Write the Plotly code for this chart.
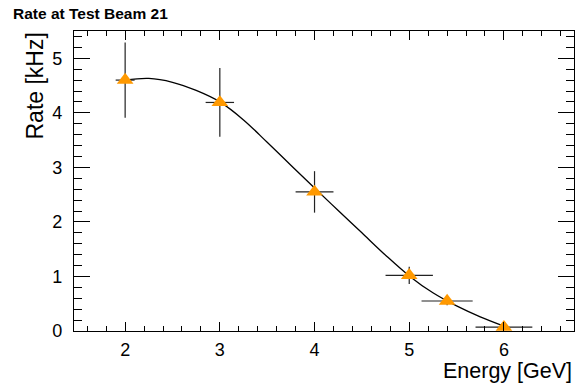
import plotly.graph_objects as go

# Measured rate versus beam energy
energy = [2.0, 3.0, 4.0, 5.0, 5.4, 6.0]
rate = [4.60, 4.19, 2.55, 1.02, 0.55, 0.07]
energy_err = [0.10, 0.15, 0.20, 0.25, 0.27, 0.30]
rate_err = [0.69, 0.63, 0.38, 0.16, 0.08, 0.01]

# Fitted curve, sampled
fit_energy = [2.0, 2.25, 2.5, 2.75, 3.0, 3.25, 3.5, 3.75, 4.0, 4.25, 4.5, 4.75,
              5.0, 5.25, 5.5, 5.75, 6.0]
fit_rate = [4.60, 4.63, 4.56, 4.41, 4.20, 3.87, 3.46, 3.04, 2.62, 2.21, 1.80,
            1.39, 1.01, 0.70, 0.46, 0.26, 0.09]

FONT = "Liberation Sans, Arial, Helvetica, sans-serif"

# Plot area in pixels
L, R, T, B = 74, 574, 31, 331
W, H = 578, 388


def px_x(p):
    return (p - L) / (R - L)


def px_y(p):
    return (B - p) / (B - T)


fig = go.Figure()

fig.add_trace(go.Scatter(
    x=fit_energy, y=fit_rate, mode="lines",
    line=dict(color="black", width=1.3, shape="spline", smoothing=1.0),
    hoverinfo="skip", showlegend=False,
))

fig.add_trace(go.Scatter(
    x=energy, y=rate, mode="markers",
    marker=dict(symbol="triangle-up", size=14.5, color="rgb(255,153,0)",
                line=dict(width=0)),
    error_x=dict(type="data", array=energy_err, color="#222", thickness=1.2, width=0),
    error_y=dict(type="data", array=rate_err, color="#222", thickness=1.2, width=0),
    showlegend=False,
))

axis_common = dict(
    showline=True, linecolor="black", linewidth=1.3, mirror="ticks",
    ticks="inside", tickcolor="black", tickwidth=1.2,
    showgrid=False, zeroline=False,
    tickfont=dict(family=FONT, size=18, color="black"),
)

fig.update_xaxes(
    range=[1.46, 6.74], tick0=0, dtick=1, ticklen=9, ticklabelstandoff=2,
    minor=dict(dtick=0.2, tick0=0, ticklen=4.5, ticks="inside",
               tickcolor="black", tickwidth=1.2),
    **axis_common,
)
fig.update_yaxes(
    range=[0, 5.5], tick0=0, dtick=1, ticklen=16, ticklabelstandoff=7,
    minor=dict(dtick=0.2, tick0=0, ticklen=8, ticks="inside",
               tickcolor="black", tickwidth=1.2),
    **axis_common,
)

annotations = [
    dict(text="<b>Rate at Test Beam 21</b>", x=px_x(11), y=px_y(13.5),
         xanchor="left", yanchor="middle", font=dict(size=15.5)),
    dict(text="Energy [GeV]", x=px_x(574), y=px_y(371),
         xanchor="right", yanchor="middle", font=dict(size=21.5)),
    dict(text="Rate [kHz]", x=px_x(34), y=px_y(31),
         xanchor="center", yanchor="top", textangle=-90, font=dict(size=23)),
]
for a in annotations:
    a.update(xref="paper", yref="paper", showarrow=False)
    f = dict(family=FONT, size=14, color="black")
    f.update(a.get("font", {}))
    a["font"] = f

fig.update_layout(
    width=W, height=H,
    margin=dict(l=L, r=W - R, t=T, b=H - B, pad=0),
    paper_bgcolor="white", plot_bgcolor="white",
    annotations=annotations,
    font=dict(family=FONT),
)

fig.write_html("out.html")
